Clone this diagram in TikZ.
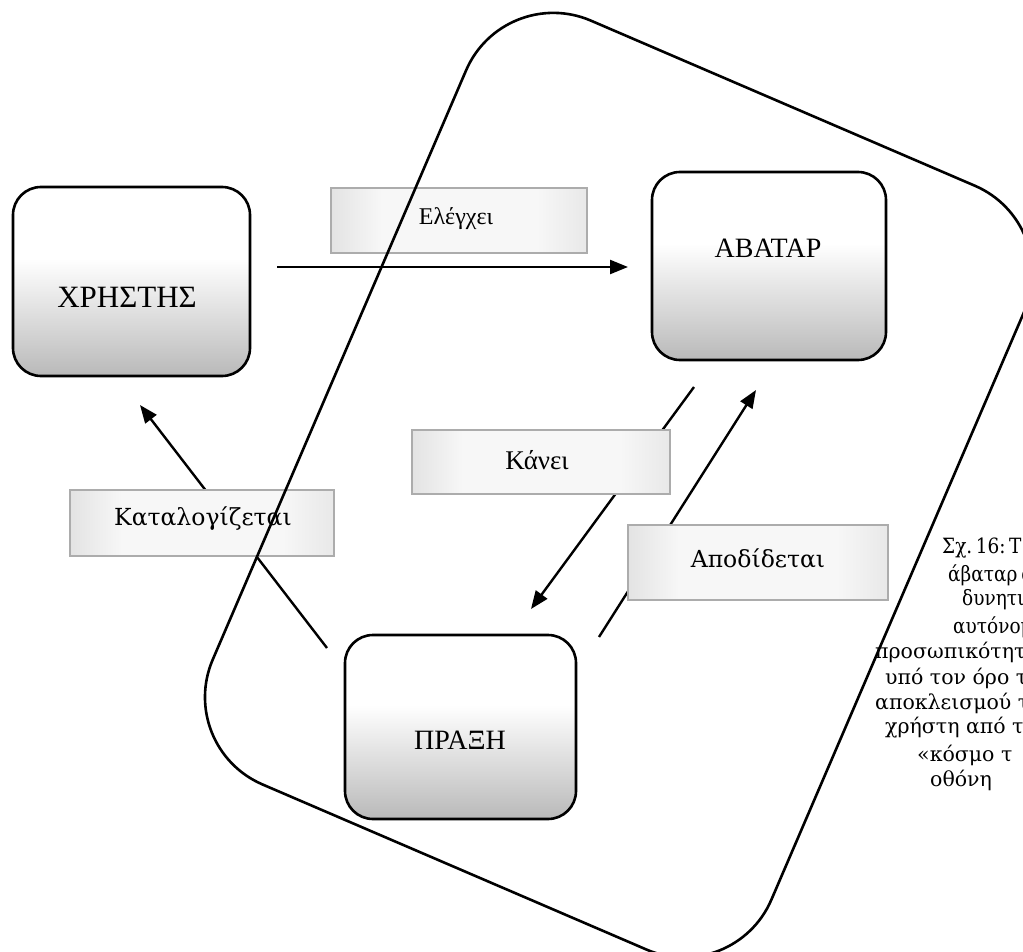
\documentclass[tikz,border=0pt]{standalone}
\usepackage{fontspec}
\setmainfont{Liberation Serif}
\newfontfamily\capfont{DejaVu Serif}
\newfontfamily\capfontn[FakeStretch=0.88]{DejaVu Serif}
\usetikzlibrary{arrows.meta,calc}
\pgfdeclareverticalshading{boxshade}{100bp}{color(0bp)=(gray!55); color(25bp)=(gray!55); color(36bp)=(gray!35); color(48bp)=(gray!14); color(56bp)=(white); color(100bp)=(white)}
\pgfdeclarehorizontalshading{lblshade}{100bp}{color(0bp)=(gray!22); color(25bp)=(gray!22); color(35bp)=(gray!6); color(65bp)=(gray!6); color(75bp)=(gray!18); color(100bp)=(gray!18)}
\begin{document}
\begin{tikzpicture}[x=1pt,y=-1pt,
  mainbox/.style={draw=black, line width=2.6pt, rounded corners=28pt, shading=boxshade, inner sep=0pt},
  lblbox/.style={draw=gray!65, line width=1.6pt, shading=lblshade, inner sep=0pt},
  maintext/.style={font=\fontsize{28}{32}\selectfont, inner sep=0pt},
  lbltext/.style={font=\fontsize{24}{28}\selectfont, inner sep=0pt},
  lbltextb/.style={font=\capfont\fontsize{23.5}{27}\selectfont, inner sep=0pt},
  captextn/.style={font=\capfontn\fontsize{21}{24}\selectfont, anchor=west, inner sep=0pt},
  captext/.style={font=\capfont\fontsize{20.5}{24}\selectfont, anchor=west, inner sep=0pt},
  conn/.style={line width=2.4pt, -{Triangle[length=18pt,width=14pt]}},
  bigshape/.style={draw=black, line width=2.6pt, rounded corners=95pt}
]
\useasboundingbox (0,0) rectangle (1023,952);
\clip (0,0) rectangle (1023,952);
\fill[white] (0,0) rectangle (1023,952);

% main boxes
\node[mainbox, minimum width=237pt, minimum height=189pt] (xbox) at (131.5,281.5) {};
\node[maintext, font=\fontsize{31}{35}\selectfont] (xtext) at (127,297) {ΧΡΗΣΤΗΣ};
\node[mainbox, minimum width=234pt, minimum height=188pt] (abox) at (769,266) {};
\node[maintext] (atext) at (768,248) {ΑΒΑΤΑΡ};
\node[mainbox, minimum width=231pt, minimum height=184pt] (pbox) at (460.5,727) {};
\node[maintext] (ptext) at (460,740) {ΠΡΑΞΗ};

% connector end points
\coordinate (e1) at (277,267);
\coordinate (e2) at (628,267);
\coordinate (k1) at (694,387);
\coordinate (k2) at (531,609);
\coordinate (d1) at (599,637);
\coordinate (d2) at (756,390);
\coordinate (c1) at (327,648);
\coordinate (c2) at (140,405);

\draw[conn] (e1) -- (e2);
\draw[conn] (k1) -- (k2);
\draw[conn] (d1) -- (d2);
\draw[conn] (c1) -- (c2);

% label boxes
\node[lblbox, minimum width=256pt, minimum height=65pt] (ebox) at (459,220.5) {};
\node[lbltext] (etext) at (456,219) {Ελέγχει};
\node[lblbox, minimum width=258pt, minimum height=64pt] (kbox) at (541,462) {};
\node[lbltext, font=\fontsize{27}{31}\selectfont] (ktext) at (537,460) {Κάνει};
\node[lblbox, minimum width=264pt, minimum height=66pt] (cbox) at (202,523) {};
\node[lbltextb] (ctext) at (203,519) {Καταλογίζεται};
\node[lblbox, minimum width=260pt, minimum height=75pt] (dbox) at (758,562.5) {};
\node[lbltextb] (dtext) at (758,559) {Αποδίδεται};

% big rounded frame
\coordinate (T) at (503.6,-16.9);
\coordinate (R) at (1062.2,223.3);
\coordinate (B) at (733.8,987.1);
\coordinate (L) at (175.2,746.9);
\coordinate (TRm) at ($(T)!0.5!(R)$);
\draw[bigshape] (TRm) -- (R) -- (B) -- (L) -- (T) -- cycle;

% caption (cut by the picture edge, as in the reference)
\node[captextn] (cap1) at (942,548) {Σχ.\hspace{3.5pt}16:\hspace{3.5pt}Τ};
\node[captextn] (cap2) at (948,575) {άβαταρ\hspace{4pt}α};
\node[captextn] (cap3) at (962,600) {δυνητικ};
\node[captextn] (cap4) at (953,627) {αυτόνομ};
\node[captext] (cap5) at (875,652) {προσωπικότητ};
\node[captext] (cap6) at (885,678) {υπό τον όρο τ};
\node[captext] (cap7) at (875,703) {αποκλεισμού τ};
\node[captext] (cap8) at (885,728) {χρήστη από τ};
\node[captext] (cap9) at (917,755) {«κόσμο τ};
\node[captext] (cap10) at (930,780) {οθόνη};
\end{tikzpicture}
\end{document}
